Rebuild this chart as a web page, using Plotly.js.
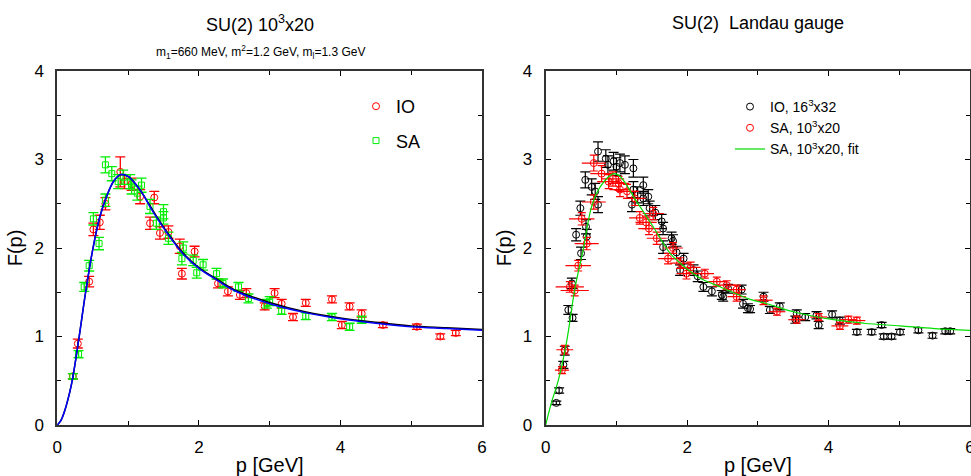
<!DOCTYPE html>
<html><head><meta charset="utf-8">
<script src="https://cdn.plot.ly/plotly-3.0.1.min.js"></script>
<style>html,body{margin:0;padding:0;background:#fff}#chart{width:971px;height:476px}</style>
</head><body><div id="chart"></div>
<script>
// ---- Left panel: SU(2) 10^3x20 ----
const ioL_x = [0.22,0.29,0.45,0.51,0.60,0.68,0.89,0.95,1.05,1.17,1.37,1.31,1.45,1.57,1.73,1.76,1.94,2.27,2.41,2.58,2.67,2.93,3.07,3.17,3.33,3.51,3.88,4.02,4.13,4.30,4.60,5.08,5.41,5.63];
const ioL_y = [0.55,0.92,1.62,2.21,2.29,2.50,2.86,2.75,2.72,2.58,2.57,2.28,2.17,2.18,2.02,1.71,1.96,1.60,1.51,1.47,1.49,1.34,1.49,1.37,1.22,1.38,1.42,1.13,1.34,1.26,1.13,1.11,1.00,1.04];
const ioL_e = [0.03,0.05,0.06,0.07,0.08,0.07,0.17,0.08,0.07,0.08,0.07,0.07,0.07,0.07,0.08,0.06,0.06,0.05,0.05,0.05,0.05,0.04,0.05,0.05,0.04,0.04,0.04,0.04,0.04,0.04,0.03,0.03,0.03,0.03];

const saL_x = [0.22,0.30,0.38,0.45,0.51,0.59,0.68,0.68,0.77,0.86,0.93,1.03,1.05,1.13,1.19,1.31,1.40,1.50,1.50,1.57,1.76,1.78,1.92,1.97,2.06,2.25,2.34,2.56,2.70,2.96,3.00,3.17,3.51,3.88,4.13,4.30];
const saL_y = [0.55,0.80,1.56,1.80,2.33,2.05,2.94,2.54,2.84,2.75,2.80,2.75,2.69,2.62,2.71,2.47,2.28,2.41,2.34,2.11,1.88,2.00,1.86,1.72,1.81,1.71,1.60,1.56,1.43,1.37,1.40,1.29,1.23,1.22,1.11,1.19];
const saL_e = [0.03,0.04,0.05,0.06,0.07,0.07,0.09,0.07,0.08,0.08,0.08,0.08,0.08,0.08,0.08,0.08,0.07,0.08,0.07,0.07,0.07,0.07,0.06,0.06,0.06,0.06,0.05,0.05,0.05,0.05,0.05,0.04,0.04,0.04,0.04,0.04];

const fitL_x     = [0,0.05,0.1,0.2,0.3,0.4,0.5,0.6,0.7,0.8,0.9,1.0,1.1,1.2,1.3,1.4,1.55,1.78,2.0,2.25,2.5,3.0,3.5,4.0,4.5,5.0,5.5,6.0];
const fitL_blue  = [0,0.05,0.15,0.46,0.95,1.50,1.98,2.35,2.59,2.76,2.83,2.81,2.73,2.62,2.48,2.35,2.17,1.93,1.77,1.64,1.52,1.37,1.27,1.20,1.15,1.11,1.09,1.07];
const fitL_black = [0,0.05,0.15,0.46,0.95,1.50,1.98,2.35,2.59,2.76,2.83,2.81,2.73,2.62,2.49,2.36,2.18,1.94,1.78,1.65,1.53,1.385,1.28,1.21,1.16,1.12,1.10,1.08];

// ---- Right panel: SU(2) Landau gauge ----
const ioR_x = [0.15,0.19,0.25,0.27,0.32,0.38,0.37,0.43,0.49,0.50,0.56,0.57,0.58,0.65,0.70,0.74,0.74,0.85,0.88,0.96,1.00,1.05,1.12,1.24,1.22,1.24,1.30,1.38,1.38,1.45,1.47,1.55,1.64,1.66,1.66,1.78,1.80,1.85,1.90,1.95,2.09,2.15,2.23,2.35,2.49,2.51,2.58,2.77,2.79,2.86,2.89,3.08,3.17,3.31,3.53,3.55,3.67,3.83,3.86,4.05,4.16,4.40,4.61,4.75,4.78,4.89,5.01,5.27,5.47,5.65,5.72];
const ioR_y = [0.25,0.39,0.68,0.84,1.30,1.21,1.60,2.15,2.45,1.94,2.77,2.24,2.13,2.69,2.64,2.49,3.09,3.01,2.94,2.98,2.92,2.96,2.94,2.90,2.49,2.66,2.60,2.71,2.56,2.58,2.45,2.40,2.30,2.22,2.01,2.11,2.08,1.95,1.75,1.88,1.75,1.68,1.56,1.51,1.47,1.45,1.54,1.53,1.37,1.32,1.31,1.45,1.30,1.34,1.19,1.26,1.22,1.24,1.13,1.25,1.18,1.05,1.05,1.13,1.00,1.00,1.05,1.07,1.01,1.06,1.06];
const ioR_e = [0.02,0.03,0.04,0.05,0.05,0.04,0.06,0.07,0.08,0.07,0.09,0.08,0.08,0.09,0.09,0.09,0.11,0.10,0.10,0.10,0.10,0.10,0.10,0.10,0.08,0.09,0.09,0.09,0.08,0.08,0.08,0.08,0.08,0.07,0.07,0.07,0.07,0.07,0.06,0.06,0.06,0.06,0.05,0.05,0.05,0.05,0.05,0.05,0.05,0.05,0.04,0.05,0.04,0.04,0.04,0.04,0.04,0.04,0.04,0.04,0.04,0.03,0.03,0.03,0.03,0.03,0.03,0.03,0.03,0.03,0.03];

const saR_x  = [0.23,0.27,0.34,0.41,0.46,0.51,0.58,0.68,0.68,0.79,0.89,0.95,1.03,1.05,1.15,1.26,1.33,1.42,1.52,1.46,1.57,1.73,1.80,1.90,1.99,2.05,2.25,2.42,2.56,2.70,2.70,3.08,3.27,3.55,3.86,4.16,4.28,4.40];
const saR_y  = [0.62,0.85,1.56,1.52,1.80,2.33,2.05,2.96,2.52,2.84,2.75,2.78,2.73,2.66,2.64,2.56,2.34,2.29,2.39,2.22,2.11,1.88,2.00,1.83,1.71,1.78,1.71,1.62,1.58,1.53,1.45,1.41,1.28,1.19,1.22,1.12,1.19,1.18];
const saR_ey = [0.04,0.05,0.06,0.06,0.06,0.07,0.07,0.09,0.08,0.09,0.08,0.08,0.08,0.08,0.08,0.08,0.07,0.07,0.07,0.07,0.07,0.06,0.06,0.06,0.06,0.06,0.05,0.05,0.05,0.05,0.05,0.05,0.04,0.04,0.04,0.04,0.04,0.04];
const saR_ex = [0.10,0.12,0.20,0.20,0.18,0.18,0.17,0.17,0.17,0.16,0.16,0.16,0.15,0.15,0.15,0.15,0.15,0.15,0.15,0.15,0.14,0.14,0.14,0.14,0.14,0.14,0.13,0.13,0.13,0.13,0.13,0.13,0.12,0.12,0.12,0.12,0.12,0.12];

const fitR_x = [0,0.08,0.18,0.30,0.41,0.53,0.65,0.77,0.96,1.05,1.29,1.52,1.76,1.99,2.18,2.47,2.89,3.13,3.5,4.07,4.5,5.01,5.5,6.0];
const fitR_y = [0,0.25,0.51,0.96,1.53,1.98,2.47,2.69,2.84,2.81,2.52,2.24,1.94,1.77,1.66,1.56,1.42,1.37,1.28,1.19,1.15,1.12,1.09,1.07];

const FONT = 'Liberation Sans, Arial, sans-serif';
const W = 971, H = 476;
const xd1 = [57.3/W, 482/W], xd2 = [545.7/W, 970/W];
const yd = [(H-425)/H, (H-71)/H];

const traces = [
  {x: ioL_x, y: ioL_y, xaxis:'x', yaxis:'y', type:'scatter', mode:'markers', name:'IO',
   legend:'legend', legendgroup:'a',
   marker:{symbol:'circle-open', size:7, color:'#ff0000', line:{width:1}},
   error_y:{type:'data', array: ioL_e, color:'#ff0000', thickness:1.3, width:5}},
  {x: saL_x, y: saL_y, xaxis:'x', yaxis:'y', type:'scatter', mode:'markers', name:'SA',
   legend:'legend', legendgroup:'b',
   marker:{symbol:'square-open', size:6, color:'#00ee00', line:{width:1}},
   error_y:{type:'data', array: saL_e, color:'#00ee00', thickness:1.3, width:5}},
  {x: fitL_x, y: fitL_black, xaxis:'x', yaxis:'y', type:'scatter', mode:'lines', showlegend:false,
   line:{color:'#000000', width:1.5, shape:'spline'}},
  {x: fitL_x, y: fitL_blue, xaxis:'x', yaxis:'y', type:'scatter', mode:'lines', showlegend:false,
   line:{color:'#0000ff', width:1.5, shape:'spline'}},

  {x: ioR_x, y: ioR_y, xaxis:'x2', yaxis:'y2', type:'scatter', mode:'markers', name:'IO, 16<sup>3</sup>x32',
   legend:'legend2',
   marker:{symbol:'circle-open', size:7, color:'#000000', line:{width:1}},
   error_y:{type:'data', array: ioR_e, color:'#000000', thickness:1.2, width:5}},
  {x: saR_x, y: saR_y, xaxis:'x2', yaxis:'y2', type:'scatter', mode:'markers', name:'SA, 10<sup>3</sup>x20',
   legend:'legend2',
   marker:{symbol:'circle-open', size:7, color:'#ff0000', line:{width:1}},
   error_y:{type:'data', array: saR_ey, color:'#ff0000', thickness:1.2, width:4},
   error_x:{type:'data', array: saR_ex, color:'#ff0000', thickness:1.2, width:0}},
  {x: fitR_x, y: fitR_y, xaxis:'x2', yaxis:'y2', type:'scatter', mode:'lines', name:'SA, 10<sup>3</sup>x20, fit',
   legend:'legend2',
   line:{color:'#00dd00', width:1.2, shape:'spline'}}
];

function xax(dom, anchor){
  return {domain: dom, anchor: anchor, range:[0,6], tickvals:[0,2,4,6], ticktext:['0','2','4','6'],
    ticks:'inside', ticklen:5, tickwidth:1, tickcolor:'#000',
    minor:{tickvals:[1,3,5], ticks:'inside', ticklen:4, tickcolor:'#000'},
    showline:true, linecolor:'#333', linewidth:2, mirror:'allticks', showgrid:false, zeroline:false,
    ticklabelstandoff:6, ticklabeloverflow:'allow',
    tickfont:{family:FONT, size:17, color:'#000'},
    title:{text:'p [GeV]', font:{family:FONT, size:20, color:'#000'}, standoff:4}};
}
function yax(dom, anchor){
  return {domain: dom, anchor: anchor, range:[0,4], tickvals:[0,1,2,3,4],
    ticks:'inside', ticklen:5, tickwidth:1, tickcolor:'#000',
    minor:{tickvals:[0.5,1.5,2.5,3.5], ticks:'inside', ticklen:4, tickcolor:'#000'},
    showline:true, linecolor:'#333', linewidth:2, mirror:'allticks', showgrid:false, zeroline:false,
    ticklabelstandoff:8, ticklabeloverflow:'allow',
    tickfont:{family:FONT, size:17, color:'#000'},
    title:{text:'F(p)', font:{family:FONT, size:20, color:'#000'}, standoff:6}};
}

const layout = {
  width: W, height: H, margin:{l:0,r:0,t:0,b:0},
  paper_bgcolor:'#fff', plot_bgcolor:'#fff',
  font:{family:FONT, color:'#000'},
  xaxis: xax(xd1,'y'), yaxis: yax(yd,'x'),
  xaxis2: xax(xd2,'y2'), yaxis2: yax(yd,'x2'),
  showlegend:true,
  legend:{x:356/W, y:1-88/H, xanchor:'left', yanchor:'top', bgcolor:'rgba(0,0,0,0)',
    font:{family:FONT, size:18, color:'#000'}, tracegroupgap:8, itemwidth:30},
  legend2:{x:730/W, y:1-91/H, xanchor:'left', yanchor:'top', bgcolor:'rgba(0,0,0,0)',
    font:{family:FONT, size:14, color:'#000'}, itemwidth:30, tracegroupgap:0},
  annotations:[
    {text:'SU(2) 10<sup>3</sup>x20', x:260/W, y:1-23/H, xref:'paper', yref:'paper', showarrow:false,
     xanchor:'center', yanchor:'middle', font:{family:FONT, size:18, color:'#000'}},
    {text:'m<sub>1</sub>=660 MeV, m<sup>2</sup>=1.2 GeV, m<sub>l</sub>=1.3 GeV', x:260/W, y:1-52/H, xref:'paper', yref:'paper', showarrow:false,
     xanchor:'center', yanchor:'middle', font:{family:FONT, size:12, color:'#000'}},
    {text:'SU(2)  Landau gauge', x:758/W, y:1-23/H, xref:'paper', yref:'paper', showarrow:false,
     xanchor:'center', yanchor:'middle', font:{family:FONT, size:18, color:'#000'}}
  ]
};

Plotly.newPlot('chart', traces, layout, {staticPlot:true, displayModeBar:false});
</script>
</body></html>
